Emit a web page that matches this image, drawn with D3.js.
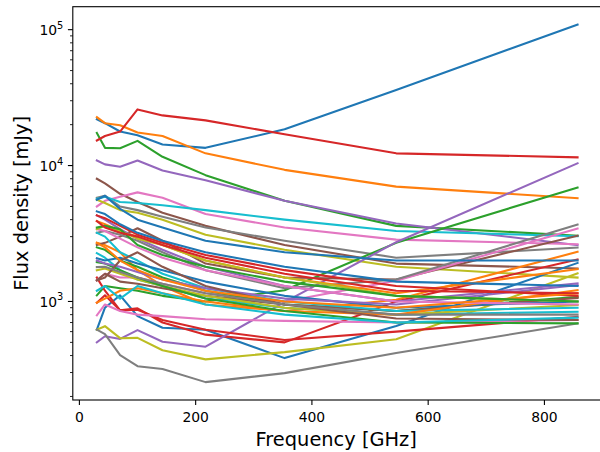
<!DOCTYPE html>
<html><head><meta charset="utf-8">
<script src="https://cdn.jsdelivr.net/npm/d3@7"></script>
<style>body{margin:0;background:#fff}svg{display:block;font-family:"DejaVu Sans",sans-serif}</style>
</head><body><svg id="c" width="600" height="452"></svg>
<script>
const frequencies = [30, 44, 70, 100, 143, 217, 353, 545, 857];
const xTicks = [0, 200, 400, 600, 800];
const yTicks = [1e3, 1e4, 1e5];
const xLabel = "Frequency [GHz]";
const yLabel = "Flux density [mJy]";
const colors = ["#1f77b4","#ff7f0e","#2ca02c","#d62728","#9467bd","#8c564b","#e377c2","#7f7f7f","#bcbd22","#17becf"];
const fluxes = [
  [21900, 20500, 17800, 16700, 14300, 13500, 18500, 36000, 109000],
  [22700, 20500, 19800, 17500, 16500, 12300, 9300, 7000, 5760],
  [17400, 13500, 13400, 15200, 11600, 8500, 5500, 3600, 3050],
  [15300, 16500, 17800, 25900, 23400, 21500, 17000, 12300, 11500],
  [10900, 10200, 9800, 10900, 9200, 7800, 5500, 3750, 2600],
  [8000, 7400, 6200, 5400, 4500, 3600, 2600, 1900, 1750],
  [5000, 5500, 5900, 6350, 5800, 4400, 3500, 2850, 2640],
  [5800, 6000, 5000, 4700, 4200, 3500, 2800, 2100, 2490],
  [5600, 5300, 4700, 4500, 4000, 3100, 2400, 1800, 1500],
  [5700, 5900, 5400, 5300, 5100, 4700, 4000, 3300, 3020],
  [620, 900, 1110, 780, 640, 620, 383, 660, 1920],
  [2700, 2600, 2300, 1700, 1300, 950, 850, 1030, 2320],
  [1110, 1300, 1250, 1200, 1100, 1000, 1210, 2700, 6900],
  [1500, 1200, 860, 890, 700, 570, 500, 1000, 2040],
  [500, 555, 530, 615, 505, 465, 990, 2730, 10400],
  [2600, 2700, 3000, 3460, 2800, 1900, 1500, 1450, 3050],
  [1430, 1600, 1500, 1500, 1350, 1150, 1000, 1420, 3440],
  [3200, 3300, 3100, 2800, 2300, 1700, 1250, 1450, 3680],
  [620, 658, 537, 540, 438, 375, 424, 528, 1610],
  [2270, 2100, 1700, 1450, 1300, 1050, 900, 800, 840],
  [5600, 6000, 4800, 4000, 3500, 2800, 2300, 2000, 2000],
  [3900, 3700, 3300, 3000, 2600, 2000, 1500, 1150, 1730],
  [2500, 2400, 2000, 1800, 1500, 1200, 950, 850, 1080],
  [980, 1110, 860, 870, 730, 620, 520, 600, 770],
  [4300, 4000, 3400, 2900, 2400, 1800, 1300, 1000, 1360],
  [1430, 1600, 1400, 1350, 1250, 1100, 950, 850, 1060],
  [790, 950, 850, 800, 780, 740, 720, 700, 730],
  [620, 575, 403, 334, 318, 255, 297, 417, 690],
  [1700, 1750, 1600, 1450, 1300, 1100, 900, 800, 940],
  [3200, 3000, 2300, 2000, 1600, 1250, 1000, 850, 900],
  [2080, 2000, 2100, 1900, 1700, 1400, 1100, 900, 1000],
  [980, 1050, 1200, 1250, 1150, 1000, 850, 800, 1210],
  [1950, 1900, 1700, 1500, 1300, 1050, 850, 700, 690],
  [4300, 4100, 3600, 3100, 2700, 2200, 1700, 1300, 1100],
  [2000, 1900, 1800, 1650, 1450, 1250, 1050, 950, 1320],
  [1430, 1500, 2000, 2300, 1800, 1300, 950, 750, 730],
  [3400, 3300, 2900, 2500, 2100, 1700, 1300, 1000, 950],
  [1790, 1800, 1650, 1500, 1350, 1150, 950, 800, 800],
  [3400, 3600, 3300, 2900, 2600, 2000, 1500, 1100, 1000],
  [1200, 1300, 1050, 1300, 1150, 950, 800, 700, 760],
  [4600, 4400, 3700, 3200, 2800, 2300, 1800, 1400, 1300],
  [2700, 2500, 2000, 1700, 1450, 1200, 1000, 900, 1150],
  [3500, 3600, 3400, 2600, 2200, 1800, 1400, 1100, 1000],
  [3900, 3500, 3200, 3000, 2600, 2100, 1600, 1200, 1150]
];

const L = 72.8, R = 601.6, T = 6.7, B = 400;
const svg = d3.select("#c");
const fMin = d3.min(frequencies), fMax = d3.max(frequencies);
const xm = (fMax - fMin) * 0.05;
const x = d3.scaleLinear().domain([fMin - xm, fMax + xm]).range([L, R]);
const all = fluxes.flat();
const lmin = Math.log10(d3.min(all)), lmax = Math.log10(d3.max(all));
const ym = (lmax - lmin) * 0.05;
const y = d3.scaleLog().domain([Math.pow(10, lmin - ym), Math.pow(10, lmax + ym)]).range([B, T]);

svg.append("defs").append("clipPath").attr("id","clip").append("rect")
  .attr("x", L).attr("y", T).attr("width", R - L).attr("height", B - T);

const line = d3.line().x((d, i) => x(frequencies[i])).y(d => y(d));
svg.append("g").attr("clip-path","url(#clip)").selectAll("path").data(fluxes).join("path")
  .attr("d", line).attr("fill","none")
  .attr("stroke", (d, i) => colors[i % 10])
  .attr("stroke-width", 2.08).attr("stroke-linejoin","round").attr("stroke-linecap","square");

// spines
svg.append("rect").attr("x", L).attr("y", T).attr("width", R - L).attr("height", B - T)
  .attr("fill","none").attr("stroke","#000").attr("stroke-width",1.1);

// x axis
const xa = svg.append("g");
xTicks.forEach(t => {
  xa.append("line").attr("x1", x(t)).attr("x2", x(t)).attr("y1", B).attr("y2", B + 4.9)
    .attr("stroke","#000").attr("stroke-width",1.1);
  xa.append("text").attr("x", x(t)).attr("y", B + 21.5).attr("text-anchor","middle")
    .attr("font-size", 13.9).attr("fill","#000").text(d3.format("d")(t));
});
svg.append("text").attr("x", (L + R) / 2 - 1).attr("y", 446).attr("text-anchor","middle")
  .attr("font-size", 19.4).attr("fill","#000").text(xLabel);

// y axis
const ya = svg.append("g");
const [d0, d1] = y.domain();
for (let e = Math.floor(Math.log10(d0)); e <= Math.ceil(Math.log10(d1)); e++) {
  for (let m = 2; m <= 9; m++) {
    const v = m * Math.pow(10, e);
    if (v < d0 || v > d1) continue;
    ya.append("line").attr("x1", L - 2.8).attr("x2", L).attr("y1", y(v)).attr("y2", y(v))
      .attr("stroke","#000").attr("stroke-width",0.85);
  }
}
yTicks.forEach(t => {
  ya.append("line").attr("x1", L - 4.9).attr("x2", L).attr("y1", y(t)).attr("y2", y(t))
    .attr("stroke","#000").attr("stroke-width",1.1);
  const tx = ya.append("text").attr("x", L - 9.5).attr("y", y(t) + 5.5).attr("text-anchor","end")
    .attr("font-size", 13.9).attr("fill","#000");
  tx.append("tspan").text("10");
  tx.append("tspan").attr("dy", -6.5).attr("font-size", 9.8).text(String(Math.round(Math.log10(t))));
});
svg.append("text").attr("transform", `translate(28,${(T + B) / 2}) rotate(-90)`)
  .attr("text-anchor","middle").attr("font-size", 19.4).attr("fill","#000").text(yLabel);
</script></body></html>
